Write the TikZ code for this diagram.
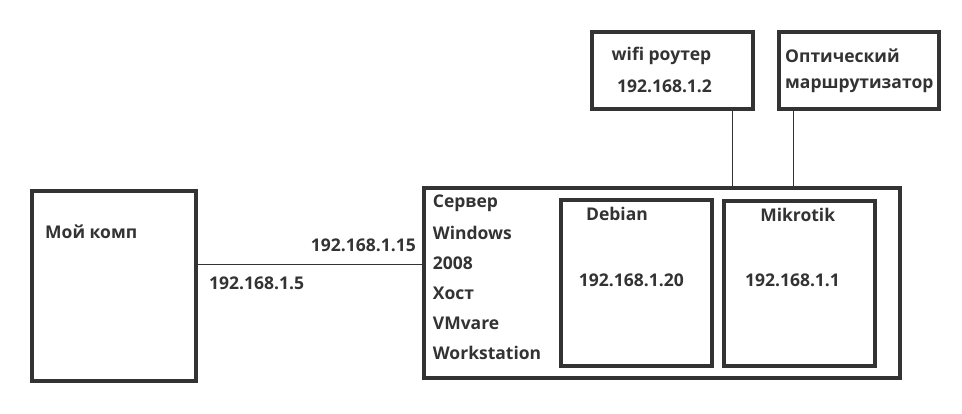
\documentclass[tikz,border=0pt]{standalone}
\usepackage{fontspec}
\setmainfont{Open Sans}
\definecolor{ink}{HTML}{333333}
\begin{document}
\begin{tikzpicture}[x=1pt,y=-1pt,
  box/.style={draw=ink, line width=4pt, inner sep=0pt},
  lbl/.style={text=ink, font=\fontsize{17.5}{20}\selectfont\bfseries, inner sep=0pt},
  wire/.style={draw=ink, line width=0.9pt}]
\path[use as bounding box] (0,0) rectangle (962,413);
% boxes
\node[box, minimum width=164pt, minimum height=190pt] (comp) at (114,286) {};
\node[box, minimum width=476.6pt, minimum height=190pt] (server) at (662,283) {};
\node[box, minimum width=151pt, minimum height=165.4pt] (debian) at (636.8,283) {};
\node[box, minimum width=151pt, minimum height=165pt] (mikrotik) at (799.2,283.8) {};
\node[box, minimum width=161pt, minimum height=77pt] (wifi) at (672.5,70.5) {};
\node[box, minimum width=160pt, minimum height=77pt] (optic) at (859,70.5) {};
% texts
\node[lbl, anchor=west] (tcomp) at (45,232) {Мой комп};
\node[lbl, anchor=east] (ip15) at (416,245) {192.168.1.15};
\node[lbl, anchor=west] (ip5) at (209,283) {192.168.1.5};
\node[lbl, anchor=west] (s1) at (432.7,203) {Сервер};
\node[lbl, anchor=west] (s2) at (432.7,233) {Windows};
\node[lbl, anchor=west] (s3) at (432.7,263) {2008};
\node[lbl, anchor=west] (s4) at (432.7,293) {Хост};
\node[lbl, anchor=west] (s5) at (432.7,323) {VMvare};
\node[lbl, anchor=west] (s6) at (432.7,353) {Workstation};
\node[lbl] (tdeb) at (617,214) {Debian};
\node[lbl] (ip20) at (631.3,280) {192.168.1.20};
\node[lbl] (tmik) at (797.7,215) {Mikrotik};
\node[lbl] (ip1) at (792.5,280) {192.168.1.1};
\node[lbl] (twifi) at (661.5,56) {wifi роутер};
\node[lbl] (ip2) at (664.5,86) {192.168.1.2};
\node[lbl, anchor=west] (to1) at (785,56) {Оптический};
\node[lbl, anchor=west] (to2) at (785,86) {маршрутизатор};
% connectors
\coordinate (ly) at (0,264);
\coordinate (wx) at (732,0);
\coordinate (ox) at (793,0);
\draw[wire] (comp.east |- ly) -- (server.west |- ly);
\draw[wire] (wifi.south -| wx) -- (server.north -| wx);
\draw[wire] (optic.south -| ox) -- (server.north -| ox);
\end{tikzpicture}
\end{document}
